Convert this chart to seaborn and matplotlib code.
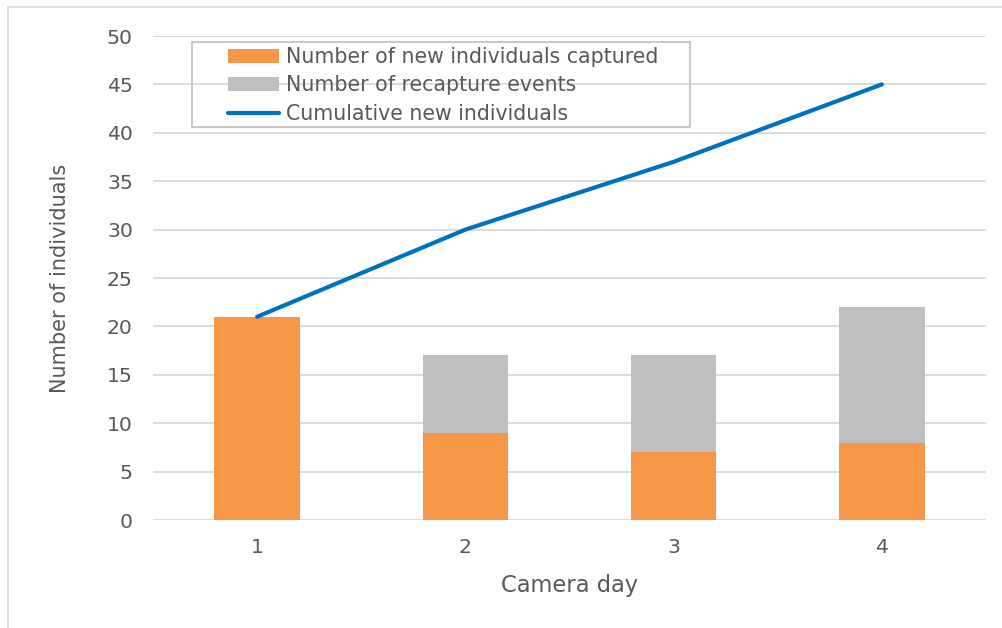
import matplotlib
matplotlib.use("Agg")
import matplotlib.pyplot as plt
from matplotlib.patches import Patch, Rectangle
from matplotlib.lines import Line2D
import numpy as np
import pandas as pd
import seaborn as sns

# ---- data ----
days = ["1", "2", "3", "4"]
new_individuals = [21, 9, 7, 8]
recapture_events = [0, 8, 10, 14]
cumulative_new = [21, 30, 37, 45]
y_ticks = list(range(0, 51, 5))

legend_labels = ["Number of new individuals captured",
                 "Number of recapture events",
                 "Cumulative new individuals"]

ORANGE = "#F79646"
GRAY = "#BFBFBF"
BLUE = "#0070C0"
TEXT = "#595959"
GRID = "#D9D9D9"

sns.set_theme(style="white")
plt.rcParams["font.family"] = ["DejaVu Sans"]

df = pd.DataFrame({
    "day": days,
    "new": new_individuals,
    "recap": recapture_events,
})
df["total"] = df["new"] + df["recap"]

W, H = 1003, 628
fig = plt.figure(figsize=(W / 100, H / 100), dpi=100)
ax = fig.add_axes([153 / W, 1 - 520 / H, (986 - 153) / W, (520 - 36) / H])

sns.barplot(data=df, x="day", y="total", order=days, color=GRAY,
            width=0.41, saturation=1, ax=ax, zorder=2, linewidth=0)
sns.barplot(data=df, x="day", y="new", order=days, color=ORANGE,
            width=0.41, saturation=1, ax=ax, zorder=3, linewidth=0)
ax.plot(np.arange(len(days)), cumulative_new, color=BLUE, lw=3.0,
        solid_capstyle="round", zorder=4)

ax.set_xlim(-0.5, len(days) - 0.5)
ax.set_ylim(0, 50)
ax.set_yticks(y_ticks)
ax.yaxis.grid(True, color=GRID, lw=1.3, zorder=0)
ax.set_axisbelow(True)
for s in ax.spines.values():
    s.set_visible(False)
ax.tick_params(axis="both", length=0, labelsize=14.7, colors=TEXT)
ax.tick_params(axis="x", pad=13)
ax.tick_params(axis="y", pad=14.5)

ax.set_xlabel("Camera day", fontsize=16.3, color=TEXT)
ax.set_ylabel("Number of individuals", fontsize=15, color=TEXT)
ax.xaxis.set_label_coords(0.5, -0.112)
ax.yaxis.set_label_coords(-0.1, 0.5)

# legend
handles = [Patch(facecolor=ORANGE, edgecolor="none"),
           Patch(facecolor=GRAY, edgecolor="none"),
           Line2D([0], [0], color=BLUE, lw=3.0, solid_capstyle="round")]
leg = fig.legend(handles, legend_labels, loc="upper left",
                 bbox_to_anchor=(228 / W, 1 - 47 / H),
                 frameon=False, fontsize=14.8, handlelength=2.5,
                 handleheight=0.65, handletextpad=0.3, labelspacing=0.41,
                 borderpad=0, borderaxespad=0)
for t in leg.get_texts():
    t.set_color(TEXT)
fig.patches.append(Rectangle((192 / W, 1 - 127 / H), (690 - 192) / W,
                             (127 - 42) / H, transform=fig.transFigure,
                             facecolor="none", edgecolor=GRAY, lw=1.2,
                             zorder=5))

# outer chart border (top and left visible)
fig.patches.append(Rectangle((8 / W, -0.1), 1.2, 1.1 - 7 / H,
                             transform=fig.transFigure, facecolor="none",
                             edgecolor=GRID, lw=1.2, zorder=0))

fig.savefig("out.png", dpi=100)
